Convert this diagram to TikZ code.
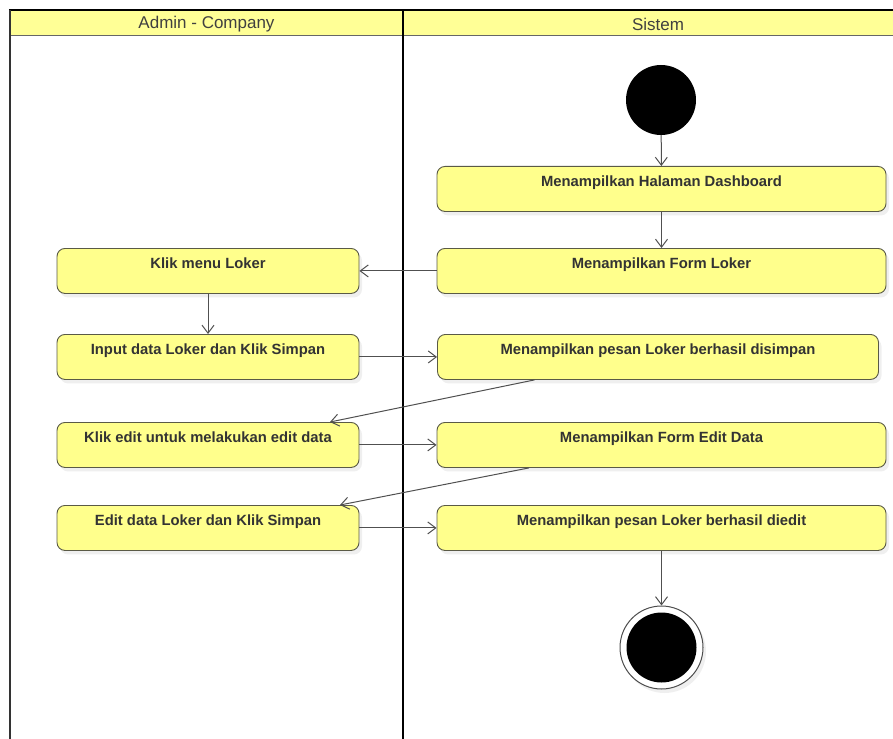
\documentclass[tikz,border=0pt]{standalone}
\usepackage{fontspec}
\setmainfont{Liberation Sans}
\usetikzlibrary{arrows.meta,calc,shadows}
\definecolor{boxfill}{RGB}{255,255,140}
\definecolor{headfill}{RGB}{255,255,150}
\definecolor{boxline}{RGB}{90,90,70}
\definecolor{arrowc}{RGB}{80,80,80}
\tikzset{
  actbox/.style={rectangle, rounded corners=8pt, draw=boxline, line width=0.9pt, fill=boxfill,
    font=\fontsize{14.8}{16}\selectfont\bfseries, text=black!80,
    inner xsep=0pt, inner ysep=0pt, text height=20pt, text depth=25pt,
    drop shadow={shadow xshift=3pt, shadow yshift=-4pt, fill=black!10, opacity=0.6}},
  flow/.style={draw=arrowc, line width=1pt, -{Straight Barb[length=8pt,width=12pt,line width=1pt]}},
  lanehead/.style={font=\fontsize{17}{19}\selectfont, text=black!75},
  lanebar/.style={line width=2.5pt, draw=black},
}
\begin{document}
\begin{tikzpicture}[x=1pt,y=-1pt]
\useasboundingbox (0,0) rectangle (893,738);
% lanes
\fill[headfill] (10,10) rectangle (913,36);
\draw[draw=black!60, line width=1pt] (10,36) -- (913,36);
\draw[lanebar] (8.75,10) -- (913,10);
\draw[lanebar, draw=black!80] (10,10) -- (10,740);
\draw[lanebar] (403,10) -- (403,740);
\node[lanehead] (h1) at (206.5,24) {Admin - Company};
\node[lanehead] (h2) at (658,24) {Sistem};
% start / end
\node[circle, fill=black, minimum size=70pt, inner sep=0pt] (start) at (661,100) {};
\node[circle, draw=black!70, line width=1pt, fill=white, minimum size=83pt, inner sep=0pt,
  drop shadow={shadow xshift=3pt, shadow yshift=-4pt, fill=black!10, opacity=0.6}] (endo) at (661.5,647.5) {};
\node[circle, fill=black, minimum size=70pt, inner sep=0pt] (endi) at (endo.center) {};
% activities
\node[actbox, minimum width=449pt] (dash) at (661.5,166) [anchor=north] {Menampilkan Halaman Dashboard};
\node[actbox, minimum width=449pt] (form) at (661.5,248) [anchor=north] {Menampilkan Form Loker};
\node[actbox, minimum width=302pt] (klik) at (208,248) [anchor=north] {Klik menu Loker};
\node[actbox, minimum width=302pt] (input) at (208,334) [anchor=north] {Input data Loker dan Klik Simpan};
\node[actbox, minimum width=441pt] (simpan) at (658,334) [anchor=north] {Menampilkan pesan Loker berhasil disimpan};
\node[actbox, minimum width=302pt] (kedit) at (208,422) [anchor=north] {Klik edit untuk melakukan edit data};
\node[actbox, minimum width=449pt] (fedit) at (661.5,422) [anchor=north] {Menampilkan Form Edit Data};
\node[actbox, minimum width=302pt] (edata) at (208,505) [anchor=north] {Edit data Loker dan Klik Simpan};
\node[actbox, minimum width=449pt] (diedit) at (661.5,505) [anchor=north] {Menampilkan pesan Loker berhasil diedit};
% flows
\draw[flow] (start) -- (dash);
\draw[flow] (dash) -- (form);
\draw[flow] (form.west) -- (klik.east);
\draw[flow] (klik) -- (input);
\draw[flow] (input.east) -- (simpan.west);
\draw[flow] ([xshift=-123.5pt]simpan.south) -- ([xshift=122pt]kedit.north);
\draw[flow] (kedit.east) -- (fedit.west);
\draw[flow] ([xshift=-132.5pt]fedit.south) -- ([xshift=132pt]edata.north);
\draw[flow] (edata.east) -- (diedit.west);
\draw[flow] (diedit) -- (endo);
\end{tikzpicture}
\end{document}
